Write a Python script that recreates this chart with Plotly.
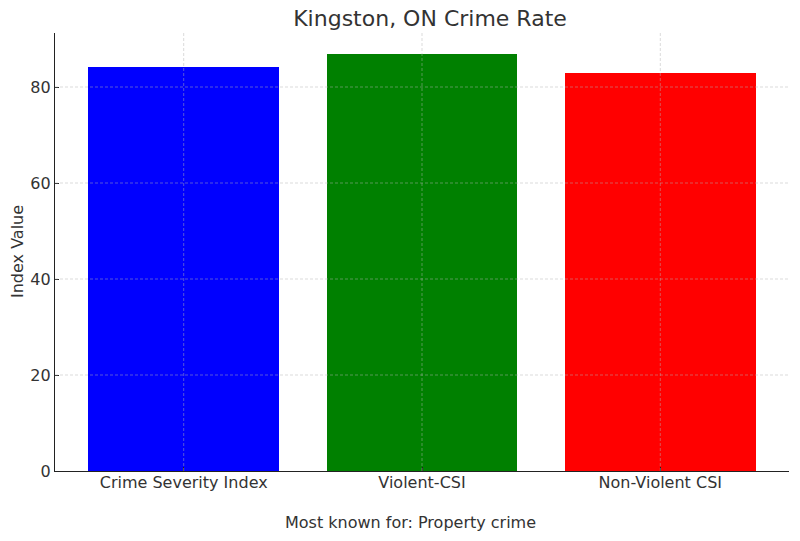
import plotly.graph_objects as go

categories = ["Crime Severity Index", "Violent-CSI", "Non-Violent CSI"]
values = [84.2, 86.9, 82.9]
colors = ["#0000ff", "#008000", "#ff0000"]
y_ticks = [0, 20, 40, 60, 80]

font_family = "DejaVu Sans"
text_color = "#333333"
grid_color = "rgba(176,176,176,0.6)"

W, H = 800, 541
L, R, T, B = 55, 11, 33, 70

fig = go.Figure()
fig.add_trace(go.Bar(
    x=categories, y=values, marker=dict(color=colors, line=dict(width=0)),
    width=0.8,
))

# Grid lines drawn above the bars (as in the reference)
for yv in y_ticks[1:]:
    fig.add_shape(type="line", xref="paper", yref="y", x0=0, x1=1, y0=yv, y1=yv,
                  line=dict(color=grid_color, width=0.8, dash="3px,2px"), layer="above")
for cat in categories:
    fig.add_shape(type="line", xref="x", yref="paper", x0=cat, x1=cat, y0=0, y1=1,
                  line=dict(color=grid_color, width=0.8, dash="3px,2px"), layer="above")

fig.update_layout(
    width=W, height=H,
    margin=dict(l=L, r=R, t=T, b=B, autoexpand=False),
    paper_bgcolor="white", plot_bgcolor="white",
    font=dict(family=font_family, color=text_color, size=16),
    title=dict(text="Kingston, ON Crime Rate", x=430 / W, xanchor="center", xref="container",
               y=1 - 18 / H, yanchor="middle", font=dict(size=22)),
    showlegend=False,
    bargap=0,
)
fig.add_annotation(text="Most known for: Property crime", xref="paper", yref="paper",
                   x=(410 - L) / (W - L - R), y=-(522 - (H - B)) / (H - T - B),
                   xanchor="center", yanchor="middle", showarrow=False,
                   font=dict(size=16, color=text_color))
fig.add_annotation(text="Index Value", xref="paper", yref="paper",
                   x=-(L - 17) / (W - L - R), y=0.5, textangle=-90,
                   xanchor="center", yanchor="middle", showarrow=False,
                   font=dict(size=16, color=text_color))
fig.update_xaxes(
    type="category", range=[-0.54, 2.54],
    showline=True, linecolor="#222222", linewidth=1.2,
    ticks="inside", ticklen=4, tickcolor="#222222",
    showgrid=False, automargin=False, ticklabelstandoff=-3,
    tickfont=dict(size=16),
)
fig.update_yaxes(
    range=[0, 91.25], tickvals=y_ticks,
    showline=True, linecolor="#222222", linewidth=1.2,
    ticks="inside", ticklen=4, tickcolor="#222222",
    showgrid=False, zeroline=False, automargin=False,
    tickfont=dict(size=16),
)

fig.write_html("out.html")
